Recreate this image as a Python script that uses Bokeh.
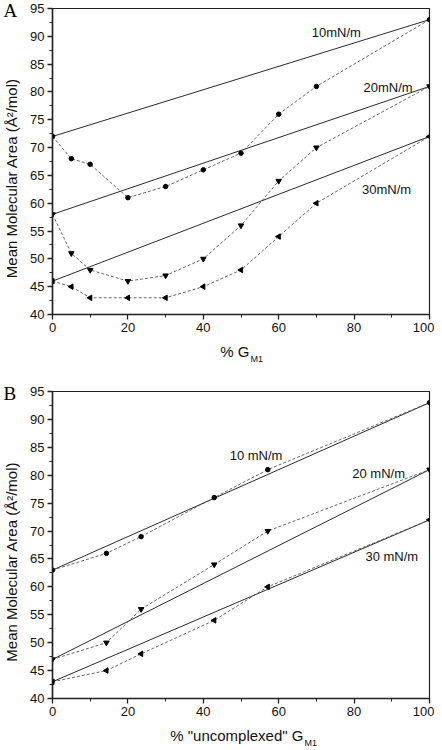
import math
from bokeh.plotting import figure
from bokeh.layouts import column
from bokeh.models import Range1d, SingleIntervalTicker, Label, Title
from bokeh.embed import file_html
from bokeh.resources import INLINE

# ---------------- data: panel A ----------------
a_x = [0, 5, 10, 20, 30, 40, 50, 60, 70, 100]
a_10 = [72, 68, 67, 61, 63, 66, 69, 76, 81, 93]
a_20 = [58, 51, 48, 46, 47, 50, 56, 64, 70, 81]
a_30 = [46, 45, 43, 43, 43, 45, 48, 54, 60, 72]
a_ideal_x = [0, 100]
a_ideal_10 = [72, 93]
a_ideal_20 = [58, 81]
a_ideal_30 = [46, 72]
a_labels = ["10mN/m", "20mN/m", "30mN/m"]

# ---------------- data: panel B ----------------
b_x = [0, 14.3, 23.5, 42.9, 57.1, 100]
b_10 = [63, 66, 69, 76, 81, 93]
b_20 = [47, 50, 56, 64, 70, 81]
b_30 = [43, 45, 48, 54, 60, 72]
b_ideal_x = [0, 100]
b_ideal_10 = [63, 93]
b_ideal_20 = [47, 81]
b_ideal_30 = [43, 72]
b_labels = ["10 mN/m", "20 mN/m", "30 mN/m"]

FONT = "Liberation Sans"
DASH = "3 2"
NB = "\u00a0"


def make_panel(height, top, bottom, letter, xs, s10, s20, s30, ix, i10, i20, i30,
               labels, label_pos, xtitle, xpad, sub_offset):
    p = figure(width=434, height=height, output_backend="svg", toolbar_location=None,
               x_range=Range1d(0, 100), y_range=Range1d(40, 95),
               min_border_left=51, min_border_right=5,
               min_border_top=top, min_border_bottom=bottom)
    p.grid.visible = False
    p.outline_line_color = "#222222"
    p.outline_line_width = 1.2
    p.background_fill_color = "white"
    p.border_fill_color = "white"

    p.xaxis.ticker = SingleIntervalTicker(interval=20, num_minor_ticks=2)
    p.yaxis.ticker = SingleIntervalTicker(interval=5, num_minor_ticks=2)
    for ax in (p.xaxis, p.yaxis):
        ax.axis_line_color = "#222222"
        ax.axis_line_width = 1.5
        ax.major_tick_line_color = "#222222"
        ax.minor_tick_line_color = "#222222"
        ax.major_tick_line_width = 1.3
        ax.major_tick_out = 5
        ax.major_tick_in = 0
        ax.minor_tick_out = 3
        ax.minor_tick_in = 0
        ax.major_label_text_font = FONT
        ax.major_label_text_font_size = "13px"
        ax.major_label_text_color = "#111111"
        ax.major_label_standoff = 3
        ax.axis_label_text_font = FONT
        ax.axis_label_text_font_size = "15px"
        ax.axis_label_text_font_style = "normal"
        ax.axis_label_text_color = "#111111"
    p.yaxis.axis_label = "Mean Molecular Area (Å²/mol)" + NB * 8
    p.yaxis.axis_label_standoff = 7
    p.xaxis.axis_label = xtitle + NB * xpad
    p.xaxis.axis_label_standoff = 8

    # subscript of the x title
    p.add_layout(Title(text="M1", align="left", offset=sub_offset, standoff=-18,
                       vertical_align="top", text_font=FONT, text_font_size="9px",
                       text_font_style="normal", text_color="#111111"), "below")
    # panel letter
    p.add_layout(Title(text=letter, align="left", offset=-49, standoff=-24,
                       vertical_align="bottom", text_font="Liberation Serif",
                       text_font_size="19px", text_font_style="normal",
                       text_color="black"), "above")

    # ideal mixing lines (solid)
    for iy in (i10, i20, i30):
        p.line(ix, iy, line_color="#111111", line_width=0.9)

    # measured series (dashed with markers)
    for sy in (s10, s20, s30):
        p.line(xs, sy, line_color="#555555", line_width=0.9, line_dash=DASH)
    p.scatter(xs, s10, marker="circle", size=4.5, color="black")
    p.scatter(xs, s20, marker="inverted_triangle", size=5.5, color="black")
    p.scatter(xs, s30, marker="triangle", angle=math.pi / 2, size=5.5, color="black")

    for txt, (lx, ly) in zip(labels, label_pos):
        p.add_layout(Label(x=lx, y=ly, text=txt, text_font=FONT, text_font_size="13px",
                           text_align="center", text_baseline="middle", text_color="#111111"))
    return p


pA = make_panel(384, 8, 70, "A", a_x, a_10, a_20, a_30,
                a_ideal_x, a_ideal_10, a_ideal_20, a_ideal_30,
                a_labels, [(75.3, 90.7), (89.0, 80.8), (88.6, 62.4)], "% G", 3, 198)
pB = make_panel(364, 7, 50, "B", b_x, b_10, b_20, b_30,
                b_ideal_x, b_ideal_10, b_ideal_20, b_ideal_30,
                b_labels, [(54.0, 83.5), (86.5, 80.3), (90.0, 65.5)], '% "uncomplexed" G', 2, 252)

layout = column(pA, pB)
open("out.html", "w").write(file_html(layout, INLINE))
